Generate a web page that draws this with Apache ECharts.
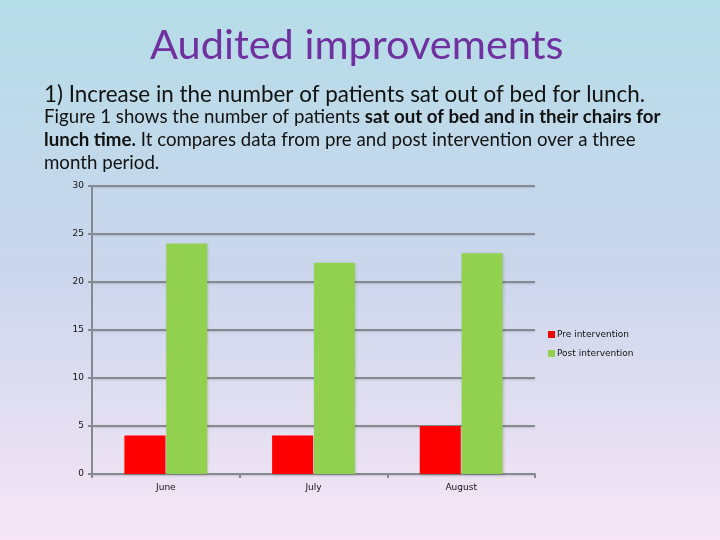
<!DOCTYPE html>
<html>
<head>
<meta charset="utf-8">
<script src="https://cdn.jsdelivr.net/npm/echarts@6/dist/echarts.min.js"></script>
<style>
  html, body { margin: 0; padding: 0; }
  #chart { width: 720px; height: 540px; }
</style>
</head>
<body>
<div id="chart"></div>
<script>
const months = ['June', 'July', 'August']
const preIntervention = [4, 4, 5]
const postIntervention = [24, 22, 23]
const seriesNames = ['Pre intervention', 'Post intervention']
const yTicks = { min: 0, max: 30, step: 5 }

const gridGray = '#858a90'
const textFont = 'Lato, "Open Sans", sans-serif'
const smallFont = 'Verdana, "DejaVu Sans", sans-serif'

const chart = echarts.init(document.getElementById('chart'), null, { renderer: 'canvas' })

const barShadow = {
  shadowColor: 'rgba(0,0,0,0.18)',
  shadowBlur: 3,
  shadowOffsetX: 1,
  shadowOffsetY: 1,
}

chart.setOption({
  backgroundColor: new echarts.graphic.LinearGradient(0, 0, 0, 1, [
    { offset: 0, color: '#b5dde8' },
    { offset: 0.5, color: '#cbd6ec' },
    { offset: 1, color: '#f6e6f6' },
  ]),
  graphic: [
    {
      type: 'text', left: 150, top: 25,
      style: { text: 'Audited improvements', fill: '#7030a0', font: '41.5px ' + textFont },
    },
    {
      type: 'text', left: 44, top: 84,
      style: { text: '1) Increase in the number of patients sat out of bed for lunch.', fill: '#111', font: '22.4px ' + textFont },
    },
    {
      type: 'text', left: 44, top: 107,
      style: {
        text: '{n|Figure 1 shows the number of patients }{b|sat out of bed and in their chairs for}',
        rich: {
          n: { fill: '#111', font: '18.7px ' + textFont },
          b: { fill: '#111', font: 'bold 18.7px ' + textFont },
        },
      },
    },
    {
      type: 'text', left: 44, top: 130,
      style: {
        text: '{b|lunch time.}{n| It compares data from pre and post intervention over a three}',
        rich: {
          n: { fill: '#111', font: '18.7px ' + textFont },
          b: { fill: '#111', font: 'bold 18.7px ' + textFont },
        },
      },
    },
    {
      type: 'text', left: 44, top: 153,
      style: { text: 'month period.', fill: '#111', font: '18.7px ' + textFont },
    },
  ],
  legend: {
    orient: 'vertical',
    left: 543,
    top: 325,
    itemWidth: 7,
    itemHeight: 7,
    itemGap: 10,
    icon: 'rect',
    textStyle: { fontSize: 9, color: '#111', fontFamily: smallFont, padding: [0, 0, 0, -3] },
    data: seriesNames,
  },
  grid: { left: 92, right: 185, top: 186, bottom: 66 },
  xAxis: {
    type: 'category',
    data: months,
    axisLine: { lineStyle: { color: gridGray, width: 2 } },
    axisTick: { show: true, alignWithLabel: false, length: 4, lineStyle: { color: gridGray, width: 2 } },
    axisLabel: { fontSize: 9, color: '#111', margin: 9, fontFamily: smallFont },
  },
  yAxis: {
    type: 'value',
    min: yTicks.min,
    max: yTicks.max,
    interval: yTicks.step,
    axisLine: { show: true, lineStyle: { color: gridGray, width: 2 } },
    axisTick: { show: true, length: 4, lineStyle: { color: gridGray, width: 2 } },
    axisLabel: { fontSize: 9, color: '#111', margin: 8, fontFamily: smallFont },
    splitLine: {
      lineStyle: {
        color: gridGray, width: 2,
        shadowColor: 'rgba(0,0,0,0.15)', shadowBlur: 2, shadowOffsetY: 1,
      },
    },
  },
  series: [
    {
      name: seriesNames[0],
      type: 'bar',
      data: preIntervention,
      barWidth: 41,
      barGap: '2%',
      itemStyle: Object.assign({ color: '#ff0000' }, barShadow),
    },
    {
      name: seriesNames[1],
      type: 'bar',
      data: postIntervention,
      barWidth: 41,
      itemStyle: Object.assign({ color: '#92d050' }, barShadow),
    },
  ],
})
</script>
</body>
</html>
